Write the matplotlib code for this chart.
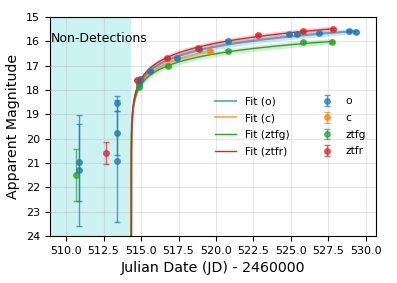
import numpy as np
import matplotlib
matplotlib.use("Agg")
import matplotlib.pyplot as plt

# ---- data ----
bands = ["o", "c", "ztfg", "ztfr"]
colors = {"o": "#1f77b4", "c": "#ff7f0e", "ztfg": "#2ca02c", "ztfr": "#d62728"}

t_o = [510.85, 510.88, 513.38, 513.38, 513.38, 514.88, 514.93, 515.58, 517.40, 518.87,
       520.82, 524.89, 525.38, 526.87, 528.87, 529.31]
m_o = [20.97, 21.30, 18.55, 19.78, 20.91, 17.75, 17.53, 17.22, 16.68, 16.33,
       15.99, 15.71, 15.71, 15.67, 15.58, 15.60]
e_o = [1.59, 2.28, 0.32, 0.90, 2.50, 0.05, 0.05, 0.04, 0.04, 0.04,
       0.04, 0.04, 0.04, 0.04, 0.04, 0.04]

t_c = [519.62]
m_c = [16.41]
e_c = [0.04]

t_g = [510.67, 514.85, 516.80, 520.82, 525.78, 527.75]
m_g = [21.49, 17.86, 17.02, 16.38, 16.01, 16.04]
e_g = [1.07, 0.05, 0.04, 0.04, 0.04, 0.04]

t_r = [512.69, 514.75, 516.73, 518.78, 522.78, 525.78, 527.78]
m_r = [20.58, 17.58, 16.68, 16.26, 15.74, 15.58, 15.51]
e_r = [0.46, 0.05, 0.04, 0.04, 0.04, 0.04, 0.04]

data = {"o": (t_o, m_o, e_o), "c": (t_c, m_c, e_c),
        "ztfg": (t_g, m_g, e_g), "ztfr": (t_r, m_r, e_r)}

# power-law fit parameters: m = A - k*log10(t - t0)
t0 = 514.35
fit_A = {"o": 17.356, "c": 17.457, "ztfg": 17.525, "ztfr": 17.256}
fit_k = {"o": 1.513, "c": 1.45, "ztfg": 1.35, "ztfr": 1.568}
fit_unc = 0.12

nondet_end = 514.31
xticks = [510.0, 512.5, 515.0, 517.5, 520.0, 522.5, 525.0, 527.5, 530.0]
yticks = list(range(15, 25))

# ---- figure ----
fig = plt.figure(figsize=(3.97, 2.83), dpi=100)
ax = fig.add_axes([0.126, 0.166, 0.821, 0.774])

ax.set_xlim(508.93, 530.67)
ax.set_ylim(24, 15)
ax.axvspan(508.0, nondet_end, color="c", alpha=0.2, lw=0, zorder=0)
ax.text(508.98, 15.88, "Non-Detections", fontsize=9, va="center", ha="left")

fit_style = {"o": dict(lw=1.5, alpha=0.6), "c": dict(lw=1.5, alpha=0.6),
             "ztfg": dict(lw=1.0, alpha=1.0), "ztfr": dict(lw=1.0, alpha=1.0)}

for b in bands:
    tend = max(data[b][0])
    tt = t0 + np.geomspace(1e-5, tend - t0, 600)
    mm = fit_A[b] - fit_k[b] * np.log10(tt - t0)
    ax.plot(tt, mm, color=colors[b], label=f"Fit ({b})", zorder=2, **fit_style[b])
    ax.fill_between(tt, mm - fit_unc, mm + fit_unc, color=colors[b], alpha=0.2, lw=0, zorder=1)

for b in bands:
    t, m, e = data[b]
    ax.errorbar(t, m, yerr=e, fmt="o", color=colors[b], ms=4, capsize=2,
                elinewidth=1, alpha=0.7, label=b, zorder=3)

ax.set_xticks(xticks)
ax.set_xticklabels([f"{x:.1f}" for x in xticks])
ax.set_yticks(yticks)
ax.tick_params(labelsize=8)
ax.grid(True, color="#b0b0b0", alpha=0.3, lw=0.8)
ax.set_axisbelow(True)

ax.set_xlabel("Julian Date (JD) - 2460000", fontsize=10.2)
ax.set_ylabel("Apparent Magnitude", fontsize=10.2)

ax.legend(ncol=2, loc="lower right", bbox_to_anchor=(1.0, 0.32), frameon=False,
          fontsize=7.7, labelspacing=0.62, columnspacing=2.5)

fig.savefig("out.png", dpi=100)
